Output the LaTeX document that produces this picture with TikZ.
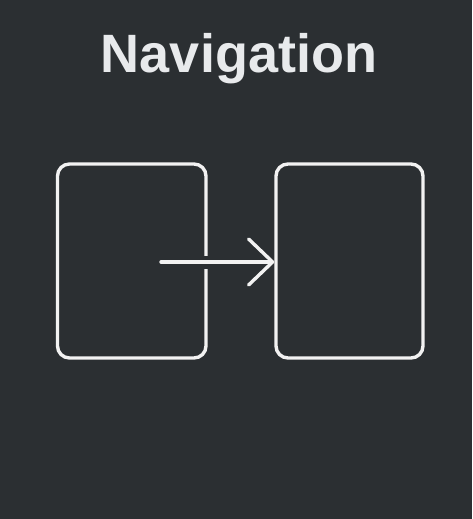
\documentclass[tikz,border=0pt]{standalone}
\usepackage{fontspec}
\setmainfont{Liberation Sans}
\usetikzlibrary{arrows.meta,calc}
\definecolor{bgc}{HTML}{2B2F32}
\definecolor{fgc}{HTML}{F2F2F2}
\definecolor{titlec}{HTML}{E8EAEC}
\tikzset{
  card/.style={draw=fgc, line width=3.4pt, rounded corners=12pt, rectangle, minimum height=194pt, inner sep=0pt},
  link/.style={draw=fgc, line width=3.4pt, -{Straight Barb[length=24pt,width=46pt,round]}},
}
\begin{document}
\begin{tikzpicture}[x=1pt,y=-1pt]
\fill[bgc] (0,0) rectangle (472,519);
\useasboundingbox (0,0) rectangle (472,519);
\node[text=titlec, font=\bfseries\fontsize{54}{60}\selectfont, anchor=base] (title) at (239,72) {Navigation};
\node[card, minimum width=148.5pt] (L) at (131.75,261) {};
\node[card, minimum width=147pt] (R) at (349.5,261) {};
\coordinate (s) at (161,262);
\coordinate (g) at (s -| L.east);
\fill[bgc] ($(g)+(-7,-6.5)$) rectangle ($(g)+(5,6.5)$);
\draw[link, line cap=round] (s) -- (s -| R.west);
\end{tikzpicture}
\end{document}
